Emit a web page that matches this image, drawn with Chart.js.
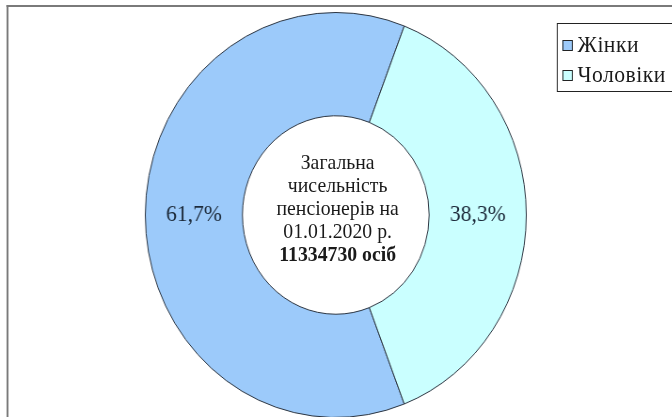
<!DOCTYPE html>
<html lang="uk">
<head>
<meta charset="utf-8">
<title>Чисельність пенсіонерів</title>
<script src="https://cdn.jsdelivr.net/npm/chart.js@4/dist/chart.umd.min.js"></script>
<style>
    html, body {
        margin: 0;
        padding: 0;
        width: 672px;
        height: 417px;
        overflow: hidden;
        background: #fff;
    }
    /* the whole sheet is a little condensed horizontally */
    #sheet {
        position: absolute;
        left: 0;
        top: 0;
        width: 715px;
        height: 417px;
        transform: scaleX(0.9406);
        transform-origin: 0 0;
        font-family: "Liberation Serif", "Times New Roman", "DejaVu Serif", serif;
        color: #1a1a1a;
    }
    #frame {
        position: absolute;
        left: 7px;
        top: 5px;
        width: 800px;
        height: 500px;
        border-left: 2px solid #7a7a7a;
        border-top: 2px solid #7a7a7a;
    }
    #pieChart {
        position: absolute;
        left: 147px;
        top: 5px;
    }
    #centerText {
        position: absolute;
        left: 239px;
        top: 151px;
        width: 240px;
        text-align: center;
        font-size: 21px;
        line-height: 23px;
    }
    #legend {
        position: absolute;
        left: 592px;
        top: 23px;
        width: 200px;
        height: 69px;
        border: 1px solid #222;
        box-sizing: border-box;
    }
    #legend ul {
        list-style: none;
        margin: 0;
        padding: 6px 0 0 5px;
    }
    #legend li {
        display: flex;
        align-items: center;
        height: 30px;
        font-size: 23px;
        letter-spacing: 0.5px;
    }
    #legend .box {
        width: 9px;
        height: 9px;
        border: 1px solid #222;
        margin-right: 5px;
    }
</style>
</head>
<body>
<div id="sheet">
    <div id="frame"></div>
    <canvas id="pieChart" width="420" height="420"></canvas>
    <div id="centerText"></div>
    <div id="legend"></div>
</div>

<script>
// Pensioners by sex, share of total (%)
const sexLabels = ["Жінки", "Чоловіки"];
const sexShares = [61.7, 38.3];
const sliceColors = ["#9ccafa", "#caffff"];

const totalPensioners = "11334730";
const reportDate = "01.01.2020";

// caption in the hole
document.getElementById("centerText").innerHTML =
    "Загальна<br>чисельність<br>пенсіонерів на<br>" +
    reportDate + " р.<br><b>" + totalPensioners + " осіб</b>";

// percentage labels in the middle of each ring segment
const sliceLabels = {
    id: "sliceLabels",
    afterDatasetsDraw(chart) {
        const ctx = chart.ctx;
        const meta = chart.getDatasetMeta(0);
        ctx.save();
        ctx.font = "23px 'Liberation Serif', 'Times New Roman', serif";
        ctx.fillStyle = "#1d2b3b";
        ctx.textAlign = "center";
        ctx.textBaseline = "middle";
        meta.data.forEach((arc, i) => {
            const pos = arc.tooltipPosition();
            const text = sexShares[i].toFixed(1).replace(".", ",") + "%";
            ctx.fillText(text, pos.x, pos.y);
        });
        ctx.restore();
    },
};

// legend as html list, built from the chart's own legend items
const htmlLegend = {
    id: "htmlLegend",
    afterUpdate(chart) {
        const items = chart.options.plugins.legend.labels.generateLabels(chart);
        const ul = document.createElement("ul");
        items.forEach((item) => {
            const li = document.createElement("li");
            const box = document.createElement("span");
            box.className = "box";
            box.style.background = item.fillStyle;
            li.appendChild(box);
            li.appendChild(document.createTextNode(item.text));
            ul.appendChild(li);
        });
        const legend = document.getElementById("legend");
        legend.innerHTML = "";
        legend.appendChild(ul);
    },
};

const pieCtx = document.getElementById("pieChart").getContext("2d");
new Chart(pieCtx, {
    type: "doughnut",
    data: {
        labels: sexLabels,
        datasets: [
            {
                data: sexShares,
                backgroundColor: sliceColors,
                borderColor: "#2b3440",
                borderWidth: 1,
            },
        ],
    },
    options: {
        responsive: false,
        animation: false,
        devicePixelRatio: 1,
        cutout: "49%",
        // men's segment is centred on the right-hand side
        rotation: 90 + (180 * sexShares[1]) / 100,
        layout: {
            padding: 7,
        },
        events: [],
        plugins: {
            legend: {
                display: false,
            },
            tooltip: {
                enabled: false,
            },
        },
    },
    plugins: [sliceLabels, htmlLegend],
});
</script>
</body>
</html>
